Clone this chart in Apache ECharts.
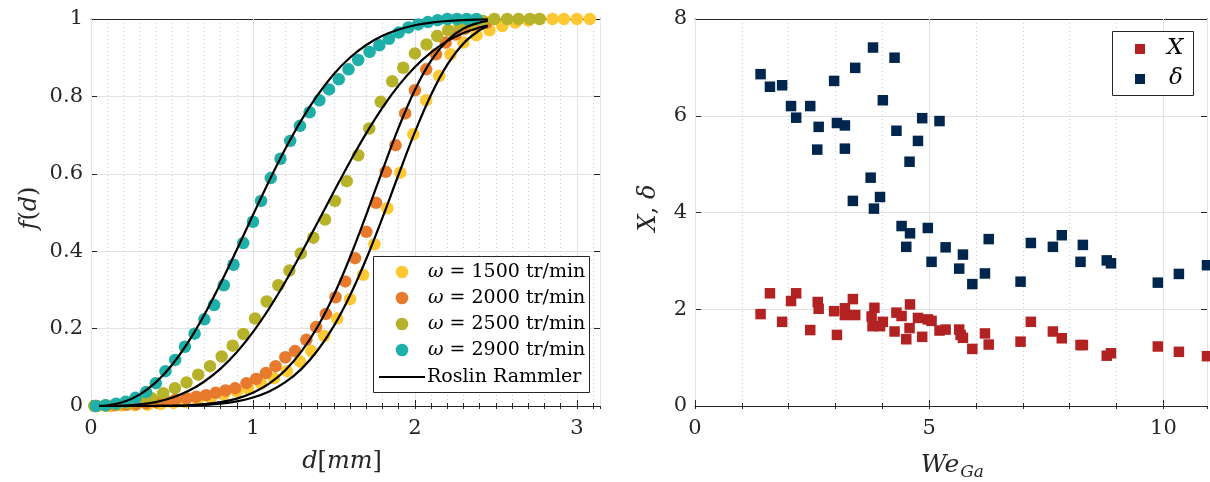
<!DOCTYPE html>
<html><head><meta charset="utf-8">
<script src="https://cdn.jsdelivr.net/npm/echarts/dist/echarts.min.js"></script>
<style>html,body{margin:0;padding:0;background:#fff}#c{width:1210px;height:482px}</style>
</head><body><div id="c"></div>
<script>
// ---------- Left panel: cumulative distributions ----------
const d1500 = [0.04,0.12,0.19,0.27,0.35,0.43,0.51,0.58,0.66,0.74,0.82,0.90,0.97,1.05,1.13,1.21,1.29,1.36,1.44,1.52,1.60,1.68,1.75,1.83,1.91,1.99,2.07,2.15,2.22,2.30,2.38,2.46,2.54,2.62,2.70,2.77,2.85,2.92,3.00,3.08];
const f1500 = [0,0,0.001,0.002,0.003,0.005,0.008,0.011,0.016,0.022,0.030,0.038,0.045,0.058,0.072,0.090,0.115,0.142,0.181,0.226,0.276,0.339,0.418,0.511,0.603,0.702,0.790,0.853,0.909,0.939,0.958,0.971,0.982,0.991,0.996,1,1,1,1,1];
const d2000 = [0.03,0.09,0.15,0.22,0.28,0.34,0.40,0.46,0.52,0.59,0.65,0.71,0.77,0.83,0.89,0.96,1.02,1.08,1.14,1.20,1.26,1.33,1.39,1.45,1.51,1.57,1.63,1.70,1.76,1.82,1.88,1.94,2.00,2.07,2.13,2.19,2.25,2.31,2.37,2.44];
const f2000 = [0,0.001,0.002,0.003,0.005,0.007,0.010,0.013,0.016,0.020,0.024,0.028,0.034,0.040,0.046,0.059,0.070,0.085,0.103,0.126,0.142,0.171,0.204,0.238,0.281,0.322,0.382,0.450,0.525,0.605,0.674,0.756,0.816,0.870,0.909,0.939,0.960,0.975,0.985,0.990];
const d2500 = [0.02,0.09,0.16,0.23,0.30,0.375,0.446,0.518,0.59,0.662,0.735,0.807,0.875,0.941,1.013,1.085,1.157,1.225,1.295,1.373,1.445,1.506,1.579,1.65,1.718,1.789,1.86,1.928,2.0,2.072,2.138,2.206,2.277,2.35,2.42,2.49,2.57,2.64,2.71,2.77];
const f2500 = [0,0.001,0.003,0.006,0.012,0.020,0.033,0.046,0.061,0.081,0.103,0.128,0.156,0.186,0.226,0.270,0.312,0.350,0.394,0.435,0.482,0.530,0.581,0.648,0.717,0.786,0.839,0.874,0.911,0.934,0.956,0.971,0.982,0.990,0.995,1,1,1,1,1];
const d2900 = [0.03,0.09,0.155,0.215,0.275,0.34,0.40,0.46,0.52,0.58,0.64,0.70,0.76,0.82,0.88,0.94,1.00,1.05,1.11,1.17,1.23,1.29,1.35,1.41,1.47,1.53,1.59,1.65,1.72,1.78,1.84,1.90,1.96,2.02,2.08,2.14,2.20,2.26,2.32,2.38];
const f2900 = [0,0.002,0.006,0.011,0.021,0.036,0.059,0.090,0.119,0.153,0.187,0.224,0.261,0.312,0.365,0.421,0.476,0.530,0.589,0.639,0.685,0.724,0.759,0.790,0.818,0.844,0.870,0.894,0.915,0.932,0.949,0.965,0.978,0.986,0.992,0.997,1,1,1,1];

// Rosin-Rammler fitted curves
const curveD = [0.05,0.1,0.2,0.3,0.4,0.5,0.6,0.7,0.8,0.9,1.0,1.1,1.2,1.3,1.4,1.5,1.6,1.7,1.8,1.9,2.0,2.1,2.2,2.3,2.4,2.45];
const rr1500 = [0,0,0,0,0.0001,0.0004,0.0011,0.0028,0.006,0.012,0.0218,0.0376,0.0615,0.096,0.144,0.2069,0.2861,0.3806,0.4868,0.5988,0.7078,0.8044,0.882,0.937,0.971,0.9815];
const rr2000 = [0,0,0,0,0.0002,0.0007,0.002,0.0047,0.01,0.0192,0.0344,0.0579,0.0925,0.141,0.2055,0.287,0.385,0.4946,0.609,0.7198,0.8166,0.8924,0.9445,0.9755,0.991,0.995];
const rr2500 = [0,0.0001,0.001,0.004,0.0102,0.0213,0.0385,0.0633,0.0966,0.139,0.191,0.252,0.321,0.396,0.4747,0.554,0.632,0.7052,0.7712,0.8285,0.876,0.914,0.9428,0.9636,0.9779,0.983];
const rr2900 = [0.0003,0.0017,0.0103,0.0293,0.0609,0.106,0.165,0.236,0.3165,0.4037,0.4934,0.5816,0.6645,0.7394,0.804,0.858,0.9005,0.9329,0.9565,0.9729,0.9838,0.9907,0.9949,0.9973,0.9987,0.9991];

const leftLegend = ['ω = 1500 tr/min','ω = 2000 tr/min','ω = 2500 tr/min','ω = 2900 tr/min','Roslin Rammler'];

// ---------- Right panel ----------
const weX = [1.40,1.60,1.86,2.05,2.16,2.46,2.62,2.64,2.97,3.03,3.20,3.20,3.42,3.37,3.83,3.77,3.79,3.95,4.01,4.26,4.30,4.41,4.51,4.58,4.59,4.76,4.85,4.97,5.05,5.22,5.35,5.64,5.67,5.72,5.92,6.19,6.27,6.95,7.17,7.64,7.83,8.23,8.28,8.79,8.88,9.88,10.33,10.93];
const valX = [1.90,2.33,1.74,2.17,2.33,1.57,2.15,2.01,1.96,1.47,2.02,1.88,1.88,2.21,2.03,1.85,1.65,1.65,1.74,1.54,1.93,1.86,1.38,1.61,2.10,1.82,1.43,1.79,1.76,1.56,1.58,1.58,1.47,1.41,1.18,1.50,1.27,1.33,1.74,1.54,1.40,1.26,1.26,1.04,1.09,1.23,1.12,1.03];
const weD = [1.40,1.60,1.86,2.05,2.16,2.46,2.64,2.61,2.97,3.03,3.20,3.20,3.42,3.80,4.01,4.26,4.30,3.75,4.58,4.76,4.85,5.22,3.37,3.95,3.82,4.41,4.59,4.97,4.51,5.05,5.35,5.72,5.64,5.92,6.19,6.27,6.95,7.17,7.64,7.83,8.28,8.23,8.79,8.88,9.88,10.33,10.93];
const valD = [6.86,6.60,6.63,6.20,5.96,6.20,5.77,5.30,6.72,5.85,5.80,5.32,6.99,7.41,6.32,7.20,5.69,4.72,5.05,5.48,5.95,5.89,4.24,4.32,4.08,3.72,3.57,3.68,3.29,2.98,3.28,3.13,2.84,2.52,2.74,3.45,2.57,3.37,3.29,3.53,3.33,2.98,3.01,2.95,2.55,2.73,2.91];
const rightLegend = ['X','δ'];

const SERIF = "'DejaVu Serif'";
const AX = '#262626';
const zip = (a, b) => a.map((v, i) => [v, b[i]]);

function axisBase(grid, pos, min, max, interval, opts) {
  return Object.assign({
    type: 'value', gridIndex: grid, position: pos, min, max, interval,
    axisLine: { show: true, onZero: false, lineStyle: { color: AX, width: 1 } },
    axisTick: { show: true, inside: true, length: 6, lineStyle: { color: AX, width: 1 } },
    axisLabel: { show: false },
    splitLine: { show: false }
  }, opts || {});
}
const labelStyle = { show: true, fontFamily: SERIF, fontSize: 21, color: AX, showMaxLabel: false };
const majorGrid = { show: true, lineStyle: { color: '#e2e2e2', width: 1 } };
const minorGrid = { show: true, lineStyle: { color: '#cfcfcf', width: 1, type: [1, 3] } };

const LXMAX = 3.143, RXMAX = 10.93;
const minorTick = { show: true, inside: true, length: 3, lineStyle: { color: AX } };
const xAxis = [
  axisBase(0, 'bottom', 0, LXMAX, 0.1, { axisLine: { show: false }, axisTick: minorTick, splitLine: minorGrid, z: 0 }),
  axisBase(0, 'top', 0, LXMAX, 0.1, { axisLine: { show: false }, axisTick: minorTick }),
  axisBase(0, 'bottom', 0, LXMAX, 1, { axisLabel: Object.assign({}, labelStyle, { margin: 12 }), splitLine: majorGrid, z: 1 }),
  axisBase(0, 'top', 0, LXMAX, 1, {}),
  axisBase(1, 'bottom', 0, RXMAX, 1, { axisLine: { show: false }, axisTick: minorTick, splitLine: minorGrid, z: 0 }),
  axisBase(1, 'top', 0, RXMAX, 1, { axisLine: { show: false }, axisTick: minorTick }),
  axisBase(1, 'bottom', 0, RXMAX, 5, { axisLabel: Object.assign({}, labelStyle, { margin: 12 }), splitLine: majorGrid, z: 1 }),
  axisBase(1, 'top', 0, RXMAX, 5, {})
];
const yAxis = [
  axisBase(0, 'left', 0, 1, 0.2, { axisLabel: Object.assign({}, labelStyle, { margin: 8, showMaxLabel: true }), splitLine: majorGrid }),
  axisBase(0, 'right', 0, 1, 0.2, {}),
  axisBase(1, 'left', 0, 8, 2, { axisLabel: Object.assign({}, labelStyle, { margin: 8, showMaxLabel: true }), splitLine: majorGrid }),
  axisBase(1, 'right', 0, 8, 2, {})
];

const ptColors = ['#FEC832', '#E77A2C', '#B6B229', '#1DAFA8'];
const pts = [zip(d1500, f1500), zip(d2000, f2000), zip(d2500, f2500), zip(d2900, f2900)];
const curves = [rr1500, rr2000, rr2500, rr2900].map(r => zip(curveD, r));

const series = [];
pts.forEach((p, i) => series.push({
  type: 'scatter', name: leftLegend[i], xAxisIndex: 2, yAxisIndex: 0, data: p,
  symbol: 'circle', symbolSize: 12.5, itemStyle: { color: ptColors[i], opacity: 1 }, z: 3 + i, silent: true
}));
curves.forEach(c => series.push({
  type: 'line', name: leftLegend[4], xAxisIndex: 2, yAxisIndex: 0, data: c, smooth: 0.4,
  showSymbol: false, symbol: 'none', lineStyle: { color: '#000', width: 2.2 }, z: 10, silent: true
}));
series.push({ type: 'scatter', name: rightLegend[0], xAxisIndex: 6, yAxisIndex: 2, data: zip(weX, valX),
  symbol: 'rect', symbolSize: 10.5, itemStyle: { color: '#B22222', opacity: 1 }, z: 3, silent: true });
series.push({ type: 'scatter', name: rightLegend[1], xAxisIndex: 6, yAxisIndex: 2, data: zip(weD, valD),
  symbol: 'rect', symbolSize: 10.5, itemStyle: { color: '#00264D', opacity: 1 }, z: 4, silent: true });

const it = (s) => 'italic ' + s + 'px ' + SERIF;
const up = (s) => s + 'px ' + SERIF;
const mctx = document.createElement('canvas').getContext('2d');
mctx.font = it(25);
const weWidth = mctx.measureText('We').width;

const rs = (size) => ({
  i: { fontFamily: SERIF, fontStyle: 'italic', fontSize: size, fill: AX },
  n: { fontFamily: SERIF, fontSize: size, fill: AX }
});
const graphic = [];
graphic.push({ type: 'text', x: 30, y: 208, rotation: Math.PI / 2, z: 50,
  style: { text: '{i|f}{n|(}{i|d}{n|)}', textAlign: 'center', textVerticalAlign: 'middle', fill: AX, rich: rs(24) } });
graphic.push({ type: 'text', x: 342, y: 462, z: 50,
  style: { text: '{i|d}{n|[}{i|mm}{n|]}', textAlign: 'center', textVerticalAlign: 'middle', fill: AX, rich: rs(24) } });
graphic.push({ type: 'text', x: 649, y: 208, rotation: Math.PI / 2, z: 50,
  style: { text: '{i|X}{n|, }{i|δ}', textAlign: 'center', textVerticalAlign: 'middle', fill: AX, rich: rs(24) } });
const weX0 = 950 - (weWidth + 20) / 2;
graphic.push({ type: 'text', x: weX0, y: 465, z: 50,
  style: { text: 'We', font: it(25), fill: AX, textAlign: 'left', textVerticalAlign: 'middle' } });
graphic.push({ type: 'text', x: weX0 + weWidth + 1, y: 473, z: 50,
  style: { text: 'Ga', font: it(17), fill: AX, textAlign: 'left', textVerticalAlign: 'middle' } });

// left legend
graphic.push({ type: 'rect', z: 60, shape: { x: 373.5, y: 256.5, width: 216, height: 136 },
  style: { fill: '#fff', stroke: AX, lineWidth: 1 } });
for (let i = 0; i < 4; i++) {
  graphic.push({ type: 'circle', z: 61, shape: { cx: 402, cy: 272 + 26 * i, r: 6.3 }, style: { fill: ptColors[i] } });
  const parts = leftLegend[i].split(' = ');
  graphic.push({ type: 'text', z: 61, x: 428, y: 272 + 26 * i,
    style: { text: '{i|' + parts[0] + '}{n| = ' + parts[1] + '}', textAlign: 'left', textVerticalAlign: 'middle', fill: '#000',
      rich: { i: { fontFamily: SERIF, fontStyle: 'italic', fontSize: 19, fill: '#000' }, n: { fontFamily: SERIF, fontSize: 19, fill: '#000' } } } });
}
graphic.push({ type: 'line', z: 61, shape: { x1: 379, y1: 377, x2: 425, y2: 377 }, style: { stroke: '#000', lineWidth: 2 } });
graphic.push({ type: 'text', z: 61, x: 427, y: 377,
  style: { text: leftLegend[4], font: up(19), fill: '#000', textAlign: 'left', textVerticalAlign: 'middle' } });

// right legend
graphic.push({ type: 'rect', z: 60, shape: { x: 1112.5, y: 31.5, width: 81, height: 64 },
  style: { fill: '#fff', stroke: AX, lineWidth: 1 } });
graphic.push({ type: 'rect', z: 61, shape: { x: 1135, y: 44, width: 10, height: 10 }, style: { fill: '#B22222' } });
graphic.push({ type: 'rect', z: 61, shape: { x: 1135, y: 74, width: 10, height: 10 }, style: { fill: '#00264D' } });
graphic.push({ type: 'text', z: 61, x: 1167, y: 48,
  style: { text: rightLegend[0], font: it(23), fill: '#000', textAlign: 'left', textVerticalAlign: 'middle' } });
graphic.push({ type: 'text', z: 61, x: 1169, y: 78,
  style: { text: rightLegend[1], font: it(23), fill: '#000', textAlign: 'left', textVerticalAlign: 'middle' } });

const chart = echarts.init(document.getElementById('c'), null, { renderer: 'canvas' });
chart.setOption({
  animation: false,
  backgroundColor: '#fff',
  textStyle: { fontFamily: SERIF },
  grid: [
    { left: 91, top: 19, width: 509, height: 387 },
    { left: 695, top: 19, width: 512, height: 387 }
  ],
  xAxis, yAxis, series, graphic
});
</script></body></html>
